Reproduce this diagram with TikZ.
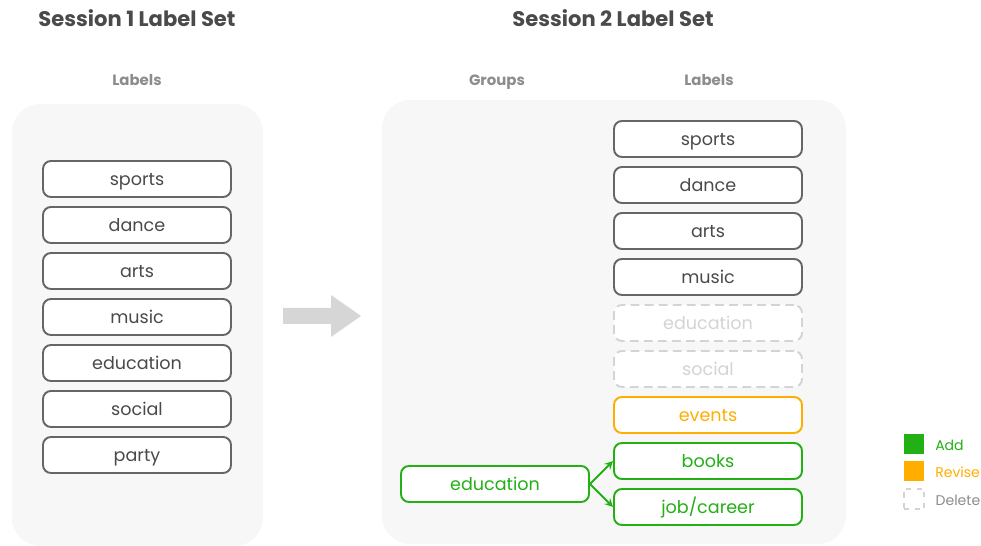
\documentclass[tikz,border=0pt]{standalone}
\usepackage{fontspec}
\setmainfont{Poppins}
\usetikzlibrary{positioning,arrows,arrows.meta}
\definecolor{boxgray}{HTML}{666666}
\definecolor{textgray}{HTML}{4A4A4A}
\definecolor{headgray}{HTML}{8C8C8C}
\definecolor{panelgray}{HTML}{F7F7F7}
\definecolor{arrowgray}{HTML}{D6D6D6}
\definecolor{delgray}{HTML}{D4D4D4}
\definecolor{addgreen}{HTML}{22B014}
\definecolor{reviseorange}{HTML}{FFAE00}
\tikzset{font=\fontsize{10}{12}\selectfont}

\begin{document}
\begin{tikzpicture}[x=0.02cm, y=-0.02cm]
	\useasboundingbox (0, 0) rectangle (981, 546);
	\tikzstyle{every node}=[align=center, inner sep=1pt]
	\tikzstyle{title}=[font=\fontsize{12}{14}\selectfont\bfseries, text=textgray, text height=1.9ex, text depth=0.45ex]
	\tikzstyle{colhead}=[font=\fontsize{8.5}{10}\selectfont\bfseries, text=headgray, text height=1.9ex, text depth=0.45ex]
	\tikzstyle{lbl}=[draw=boxgray, line width=1.1pt, rounded corners=4.5pt, fill=white, minimum width=3.76cm, minimum height=0.72cm, text=textgray, text height=1.9ex, text depth=0.45ex]
	\tikzstyle{dellbl}=[lbl, draw=delgray, dashed, dash pattern=on 5pt off 3pt, text=delgray]
	\tikzstyle{revlbl}=[lbl, draw=reviseorange, text=reviseorange]
	\tikzstyle{addlbl}=[lbl, draw=addgreen, text=addgreen]
	\tikzstyle{key}=[minimum size=0.4cm, inner sep=0pt]
	\tikzstyle{keytext}=[font=\fontsize{8}{9}\selectfont, anchor=west, text height=1.9ex, text depth=0.45ex]

	% panels
	\fill [panelgray, rounded corners=16pt] (12, 104) rectangle (263, 546);
	\fill [panelgray, rounded corners=16pt] (382, 100) rectangle (846, 544);

	% titles
	\node [title] (s1) at (137, 20) {Session 1 Label Set};
	\node [title] (s2) at (613, 20) {Session 2 Label Set};
	\node [colhead] (labels1) at (137, 79) {Labels};
	\node [colhead] (groups2) at (497, 79) {Groups};
	\node [colhead] (labels2) at (709, 79) {Labels};

	% session 1
	\node [lbl] (sports1) at (137, 179) {sports};
	\node [lbl] (dance1) at (137, 225) {dance};
	\node [lbl] (arts1) at (137, 271) {arts};
	\node [lbl] (music1) at (137, 317) {music};
	\node [lbl] (edu1) at (137, 363) {education};
	\node [lbl] (social1) at (137, 409) {social};
	\node [lbl] (party1) at (137, 455) {party};

	% big arrow
	\fill [arrowgray] (283, 308) -- (331, 308) -- (331, 295) -- (361, 316)
		-- (331, 337) -- (331, 324) -- (283, 324) -- cycle;

	% session 2
	\node [lbl] (sports2) at (708, 139) {sports};
	\node [lbl] (dance2) at (708, 185) {dance};
	\node [lbl] (arts2) at (708, 231) {arts};
	\node [lbl] (music2) at (708, 277) {music};
	\node [dellbl] (edu2) at (708, 323) {education};
	\node [dellbl] (social2) at (708, 369) {social};
	\node [revlbl] (events2) at (708, 415) {events};
	\node [addlbl] (books2) at (708, 461) {books};
	\node [addlbl] (job2) at (708, 507) {job/career};

	\node [addlbl] (edugrp) at (495, 484) {education};

	\draw [->, >=stealth, addgreen, line width=1.1pt] (edugrp.east) to (books2.west);
	\draw [->, >=stealth, addgreen, line width=1.1pt] (edugrp.east) to (job2.west);

	% legend
	\node [key, fill=addgreen] (addkey) at (914, 444) {};
	\node [key, fill=reviseorange] (revkey) at (914, 471) {};
	\node [key, draw=delgray, dashed, line width=0.8pt] (delkey) at (914, 499) {};
	\node [keytext, text=addgreen, right=5pt of addkey] (addtxt) {Add};
	\node [keytext, text=reviseorange, right=5pt of revkey] (revtxt) {Revise};
	\node [keytext, text=headgray, right=5pt of delkey] (deltxt) {Delete};
\end{tikzpicture}
\end{document}
